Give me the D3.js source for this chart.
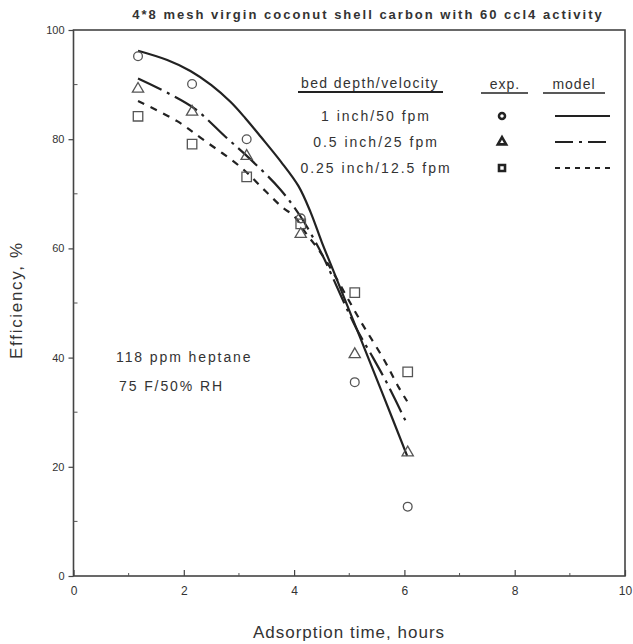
<!DOCTYPE html>
<html>
<head>
<meta charset="utf-8">
<script src="https://cdn.jsdelivr.net/npm/d3@7"></script>
<style>
  body { margin: 0; background: #fff; }
  svg { display: block; }
  text { font-family: "Liberation Sans", Arial, sans-serif; fill: #333; }
</style>
</head>
<body>
<script>
// experiment times (hours)
var expTimes = [1.17, 2.15, 3.14, 4.12, 5.1, 6.06];
// measured efficiency, %
var expCircle = [95.2, 90.1, 80.0, 65.5, 35.5, 12.7];
var expTriangle = [89.2, 85.0, 76.9, 62.6, 40.6, 22.6];
var expSquare = [84.2, 79.1, 73.1, 64.5, 51.9, 37.4];

// model curves
var modelSolidX = [1.17, 1.7, 2.12, 2.5, 2.85, 3.12, 3.4, 3.76, 4.08, 4.3, 4.5, 4.7, 5.2, 5.6, 6.05];
var modelSolidY = [96.2, 94.5, 92.5, 89.9, 86.8, 83.8, 80.4, 75.9, 71.4, 66.6, 61.2, 56.2, 43.6, 33.5, 22.0];
var modelDashDotX = [1.17, 1.72, 2.21, 2.75, 3.21, 3.75, 4.12, 4.43, 4.55, 5.12, 5.43, 5.68, 6.05];
var modelDashDotY = [91.1, 88.4, 85.5, 80.5, 76.3, 70.8, 65.8, 60.4, 58.0, 45.5, 40.0, 35.4, 27.8];
var modelDashX = [1.17, 1.88, 2.34, 3.03, 3.48, 3.79, 4.0, 4.2, 4.55, 5.21, 5.63, 5.9, 6.05];
var modelDashY = [87.0, 83.3, 80.0, 74.9, 70.5, 67.5, 65.9, 63.0, 58.2, 46.6, 39.6, 34.5, 32.0];

var legendRows = ["1 inch/50 fpm", "0.5 inch/25 fpm", "0.25 inch/12.5 fpm"];
var xTicks = [0, 2, 4, 6, 8, 10];
var yTicks = [0, 20, 40, 60, 80, 100];
var xMinor = [1, 3, 5, 7, 9];
var yMinor = [10, 30, 50, 70, 90];

var W = 633, H = 644;
var margin = { top: 30, right: 8, bottom: 68, left: 73.5 };
var width = W - margin.left - margin.right,
  height = H - margin.top - margin.bottom;

var svg = d3.select("body").append("svg").attr("width", W).attr("height", H);
var g = svg.append("g").attr("transform", "translate(" + margin.left + "," + margin.top + ")");

var x = d3.scaleLinear().domain([0, 10]).range([0, width]);
var y = d3.scaleLinear().domain([0, 100]).range([height, 0]);

var ink = "#222";

// frame
g.append("rect")
  .attr("x", 0).attr("y", 0)
  .attr("width", width).attr("height", height)
  .attr("fill", "none").attr("stroke", "#444").attr("stroke-width", 1.6);

// x axis: ticks pointing up into the plot
var xAxis = d3.axisBottom(x).tickValues(xTicks).tickSize(-6).tickPadding(10);
var gx = g.append("g").attr("transform", "translate(0," + height + ")").call(xAxis);
gx.select(".domain").remove();
gx.selectAll("line").attr("stroke", "#444").attr("stroke-width", 1.2);
gx.selectAll("text").style("font-size", "12px").attr("fill", "#333");

gx.selectAll(".minor").data(xMinor).enter().append("line")
  .attr("class", "minor")
  .attr("x1", function (d) { return x(d); })
  .attr("x2", function (d) { return x(d); })
  .attr("y1", 0).attr("y2", -3)
  .attr("stroke", "#555");

// y axis
var yAxis = d3.axisLeft(y).tickValues(yTicks).tickSize(5).tickPadding(4);
var gy = g.append("g").call(yAxis);
gy.select(".domain").remove();
gy.selectAll("line").attr("stroke", "#444").attr("stroke-width", 1.2);
gy.selectAll("text").style("font-size", "11px").attr("fill", "#333");

gy.selectAll(".minor").data(yMinor).enter().append("line")
  .attr("class", "minor")
  .attr("x1", 0).attr("x2", 4)
  .attr("y1", function (d) { return y(d); })
  .attr("y2", function (d) { return y(d); })
  .attr("stroke", "#555");

// model lines
var line = d3.line()
  .x(function (d) { return x(d[0]); })
  .y(function (d) { return y(d[1]); })
  .curve(d3.curveCatmullRom.alpha(0.5));

var models = [
  { xs: modelSolidX, ys: modelSolidY, dash: null },
  { xs: modelDashDotX, ys: modelDashDotY, dash: "26,6,3,6" },
  { xs: modelDashX, ys: modelDashY, dash: "7,7" }
];

models.forEach(function (m) {
  var pts = m.xs.map(function (v, i) { return [v, m.ys[i]]; });
  g.append("path")
    .datum(pts)
    .attr("d", line)
    .attr("fill", "none")
    .attr("stroke", ink)
    .attr("stroke-width", 2.2)
    .attr("stroke-dasharray", m.dash);
});

// experiment markers
var symCircle = d3.symbol().type(d3.symbolCircle).size(60);
var symTriangle = d3.symbol().type(d3.symbolTriangle).size(55);
var symSquare = d3.symbol().type(d3.symbolSquare).size(90);

function drawPoints(vals, sym) {
  g.selectAll(null)
    .data(vals)
    .enter()
    .append("path")
    .attr("d", sym)
    .attr("transform", function (d, i) {
      return "translate(" + x(expTimes[i]) + "," + y(d) + ")";
    })
    .attr("fill", "none")
    .attr("stroke", "#555")
    .attr("stroke-width", 1.3);
}
drawPoints(expCircle, symCircle);
drawPoints(expTriangle, symTriangle);
drawPoints(expSquare, symSquare);

// title
svg.append("text")
  .attr("x", 368).attr("y", 19)
  .attr("text-anchor", "middle")
  .style("font-size", "13px")
  .style("font-weight", "bold")
  .style("letter-spacing", "2px")
  .text("4*8 mesh virgin coconut shell carbon with 60 ccl4 activity");

// axis titles
svg.append("text")
  .attr("x", 349).attr("y", 638)
  .attr("text-anchor", "middle")
  .style("font-size", "17px")
  .style("letter-spacing", "1px")
  .text("Adsorption time, hours");

svg.append("text")
  .attr("transform", "translate(22,300) rotate(-90)")
  .attr("text-anchor", "middle")
  .style("font-size", "17px")
  .style("letter-spacing", "1.7px")
  .text("Efficiency, %");

// conditions
svg.append("text")
  .attr("x", 116).attr("y", 362)
  .style("font-size", "14px")
  .style("letter-spacing", "1.9px")
  .text("118 ppm heptane");
svg.append("text")
  .attr("x", 119).attr("y", 391)
  .style("font-size", "14px")
  .style("letter-spacing", "1.9px")
  .text("75 F/50% RH");

// legend
var legend = svg.append("g");
legend.append("text")
  .attr("x", 370).attr("y", 88)
  .attr("text-anchor", "middle")
  .style("font-size", "14px")
  .style("letter-spacing", "1.4px")
  .text("bed depth/velocity");
legend.append("line")
  .attr("x1", 298).attr("x2", 443).attr("y1", 92).attr("y2", 92)
  .attr("stroke", ink).attr("stroke-width", 2.2);

legend.append("text")
  .attr("x", 505).attr("y", 89)
  .attr("text-anchor", "middle")
  .style("font-size", "14px")
  .style("letter-spacing", "1px")
  .text("exp.");
legend.append("line")
  .attr("x1", 481).attr("x2", 528).attr("y1", 93).attr("y2", 93)
  .attr("stroke", ink).attr("stroke-width", 1.4);

legend.append("text")
  .attr("x", 574).attr("y", 89)
  .attr("text-anchor", "middle")
  .style("font-size", "14px")
  .style("letter-spacing", "1px")
  .text("model");
legend.append("line")
  .attr("x1", 543).attr("x2", 605).attr("y1", 93).attr("y2", 93)
  .attr("stroke", ink).attr("stroke-width", 1.4);

var legendSyms = [
  d3.symbol().type(d3.symbolCircle).size(28),
  d3.symbol().type(d3.symbolTriangle).size(30),
  d3.symbol().type(d3.symbolSquare).size(36)
];

var rowY = d3.scalePoint().domain(legendRows).range([116, 168]);

legendRows.forEach(function (r, i) {
  legend.append("text")
    .attr("x", 376).attr("y", rowY(r) + 5)
    .attr("text-anchor", "middle")
    .style("font-size", "14px")
    .style("letter-spacing", "2px")
    .text(r);
  legend.append("path")
    .attr("d", legendSyms[i])
    .attr("transform", "translate(502," + rowY(r) + ")")
    .attr("fill", "none")
    .attr("stroke", ink)
    .attr("stroke-width", 2.6);
  legend.append("line")
    .attr("x1", 555).attr("x2", 610)
    .attr("y1", rowY(r)).attr("y2", rowY(r))
    .attr("stroke", ink)
    .attr("stroke-width", 2.2)
    .attr("stroke-dasharray", models[i].dash === null ? null : (i == 1 ? "18,6,3,6" : "5,5"));
});
</script>
</body>
</html>
